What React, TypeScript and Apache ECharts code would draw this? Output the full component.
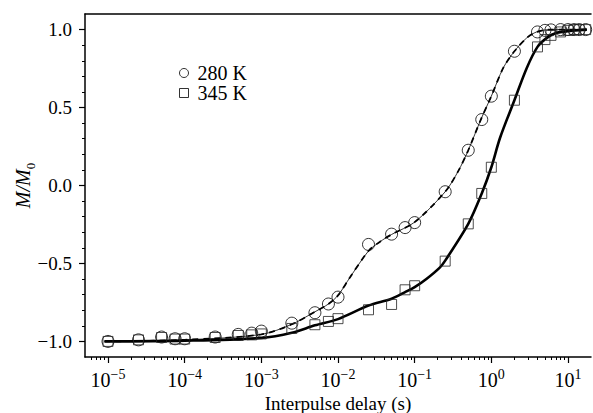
import React, { useEffect, useRef } from "react";
import * as echarts from "echarts";

// Measured data (delay in seconds, M/M0)
const delays280: number[] = [1e-5, 2.5e-5, 5e-5, 7.5e-5, 1e-4, 2.5e-4, 5e-4, 7.5e-4, 1e-3, 2.5e-3, 5e-3, 7.5e-3, 1e-2, 2.5e-2, 5e-2, 7.5e-2, 1e-1, 2.5e-1, 5e-1, 7.5e-1, 1, 2, 4, 5, 6, 8, 10, 12, 14, 17];
const values280: number[] = [-1.0, -0.99, -0.972, -0.983, -0.983, -0.972, -0.955, -0.947, -0.934, -0.883, -0.816, -0.76, -0.716, -0.378, -0.312, -0.27, -0.238, -0.04, 0.226, 0.423, 0.573, 0.861, 0.985, 0.995, 0.998, 1.0, 1.0, 1.0, 1.0, 1.0];

const delays345: number[] = [1e-5, 2.5e-5, 5e-5, 7.5e-5, 1e-4, 2.5e-4, 5e-4, 7.5e-4, 1e-3, 2.5e-3, 5e-3, 7.5e-3, 1e-2, 2.5e-2, 5e-2, 7.5e-2, 1e-1, 2.5e-1, 5e-1, 7.5e-1, 1, 2, 4, 5, 6, 8, 10, 12, 14, 17];
const values345: number[] = [-1.0, -0.99, -0.975, -0.985, -0.985, -0.975, -0.962, -0.958, -0.952, -0.917, -0.893, -0.872, -0.854, -0.797, -0.763, -0.669, -0.643, -0.485, -0.246, -0.051, 0.117, 0.547, 0.889, 0.936, 0.963, 0.985, 0.995, 1.0, 1.0, 1.0];

// Fitted curves
const fit280X: number[] = [9e-6, 1e-4, 1e-3, 2.5e-3, 5e-3, 7.5e-3, 1e-2, 1.43e-2, 2.5e-2, 3.5e-2, 5e-2, 1e-1, 0.25, 0.37, 0.5, 0.73, 1.0, 1.43, 2.0, 2.9, 3.9, 5.8, 17.6];
const fit280Y: number[] = [-1.0, -0.99, -0.955, -0.89, -0.81, -0.76, -0.705, -0.59, -0.42, -0.362, -0.314, -0.235, -0.04, 0.092, 0.226, 0.423, 0.573, 0.754, 0.861, 0.947, 0.985, 1.0, 1.0];

const fit345X: number[] = [9e-6, 1e-4, 1e-3, 2.5e-3, 5e-3, 1e-2, 2.5e-2, 5e-2, 7.5e-2, 0.1, 0.1435, 0.214, 0.25, 0.5, 0.75, 1.0, 1.3, 2.0, 2.9, 4.0, 5.3, 7.1, 11.7, 17.6];
const fit345Y: number[] = [-1.0, -0.995, -0.978, -0.945, -0.897, -0.857, -0.77, -0.726, -0.684, -0.652, -0.598, -0.525, -0.482, -0.246, -0.051, 0.117, 0.306, 0.547, 0.754, 0.889, 0.947, 0.979, 0.994, 1.0];

// Axis ticks
const xDecades: number[] = [-5, -4, -3, -2, -1, 0, 1];
const yMajor: number[] = [-1.0, -0.5, 0.0, 0.5, 1.0];
const yMinor: number[] = [-0.9, -0.8, -0.7, -0.6, -0.4, -0.3, -0.2, -0.1, 0.1, 0.2, 0.3, 0.4, 0.6, 0.7, 0.8, 0.9];
const legendNames: string[] = ["280 K", "345 K"];

const X_MIN = -5.3;
const X_MAX = 1.3;
const FONT = "Liberation Serif";

const toPairs = (xs: number[], ys: number[]) => xs.map((x, i) => [Math.log10(x), ys[i]]);

const xMinor: number[] = [];
for (let n = -6; n <= 1; n++) {
  for (let k = 2; k <= 9; k++) {
    const v = n + Math.log10(k);
    if (v >= X_MIN && v <= X_MAX) xMinor.push(v);
  }
}

export default function App() {
  const ref = useRef<HTMLDivElement>(null);
  useEffect(() => {
    if (!ref.current) return;
    const chart = echarts.init(ref.current, undefined, { renderer: "svg" });
    const axisLineStyle = { color: "#000", width: 1.5 };
    chart.setOption({
      animation: false,
      backgroundColor: "#fff",
      textStyle: { fontFamily: FONT },
      grid: { left: 85, top: 14, right: 2, bottom: 56, containLabel: false, outerBoundsMode: "none" },
      legend: {
        data: legendNames.map((n) => ({
          name: n,
          itemStyle: { color: "rgba(0,0,0,0)", borderColor: "#000", borderWidth: 1 },
        })),
        orient: "vertical",
        left: 174,
        top: 58,
        itemWidth: 9,
        itemHeight: 9,
        itemGap: 0,
        textStyle: { fontFamily: FONT, fontSize: 20, lineHeight: 19, color: "#000", padding: [0, 0, 0, 4] },
      },
      xAxis: [
        {
          type: "value",
          min: X_MIN,
          max: X_MAX,
          position: "bottom",
          name: "Interpulse delay (s)",
          nameLocation: "middle",
          nameGap: 37,
          nameMoveOverlap: false,
          nameTextStyle: { fontFamily: FONT, fontSize: 19, lineHeight: 19, color: "#000" },
          axisLine: { show: true, onZero: false, lineStyle: axisLineStyle },
          axisTick: { show: true, inside: false, length: 6, customValues: xDecades, lineStyle: { color: "#000", width: 1.2 } },
          axisLabel: {
            show: true,
            margin: 10,
            customValues: xDecades,
            formatter: (v: number) => `{b|10}{s|${v < 0 ? "\u2212" : ""}${Math.abs(Math.round(v))}}`,
            rich: {
              b: { fontFamily: FONT, fontSize: 20, color: "#000", lineHeight: 23, verticalAlign: "bottom" },
              s: { fontFamily: FONT, fontSize: 14, color: "#000", lineHeight: 14, verticalAlign: "top" },
            },
          },
          splitLine: { show: false },
        },
        {
          type: "value",
          min: X_MIN,
          max: X_MAX,
          position: "bottom",
          axisLine: { show: false, onZero: false },
          axisTick: { show: true, inside: false, length: 3, customValues: xMinor, lineStyle: { color: "#000", width: 1 } },
          axisLabel: { show: false },
          splitLine: { show: false },
        },
        {
          type: "value",
          min: X_MIN,
          max: X_MAX,
          position: "top",
          axisLine: { show: true, onZero: false, lineStyle: axisLineStyle },
          axisTick: { show: false },
          axisLabel: { show: false },
          splitLine: { show: false },
        },
      ],
      yAxis: [
        {
          type: "value",
          min: -1.1,
          max: 1.1,
          position: "left",
          name: "{i|M/M}{sub|0}",
          nameLocation: "middle",
          nameGap: 48,
          nameMoveOverlap: false,
          nameRotate: 90,
          nameTextStyle: {
            rich: {
              i: { fontFamily: FONT, fontSize: 20, fontStyle: "italic", color: "#000", lineHeight: 24, verticalAlign: "top" },
              sub: { fontFamily: FONT, fontSize: 13, color: "#000", lineHeight: 14, verticalAlign: "bottom" },
            },
          },
          axisLine: { show: true, onZero: false, lineStyle: axisLineStyle },
          axisTick: { show: true, inside: false, length: 6, customValues: yMajor, lineStyle: { color: "#000", width: 1.2 } },
          axisLabel: {
            show: true,
            margin: 13,
            customValues: yMajor,
            fontFamily: FONT,
            fontSize: 19,
            color: "#000",
            formatter: (v: number) => (v < 0 ? "\u2212" : "") + Math.abs(v).toFixed(1),
          },
          splitLine: { show: false },
        },
        {
          type: "value",
          min: -1.1,
          max: 1.1,
          position: "left",
          axisLine: { show: false, onZero: false },
          axisTick: { show: true, inside: false, length: 3, customValues: yMinor, lineStyle: { color: "#000", width: 1 } },
          axisLabel: { show: false },
          splitLine: { show: false },
        },
      ],
      series: [
        {
          type: "line",
          name: "fit280solid",
          data: toPairs(fit280X, fit280Y),
          smooth: 0.3,
          showSymbol: false,
          symbol: "none",
          lineStyle: { color: "#000", width: 0.8 },
          z: 2,
        },
        {
          type: "line",
          name: "fit280dash",
          data: toPairs(fit280X, fit280Y),
          smooth: 0.3,
          showSymbol: false,
          symbol: "none",
          lineStyle: { color: "#000", width: 1.8, type: [6, 5] },
          z: 2,
        },
        {
          type: "line",
          name: "fit345",
          data: toPairs(fit345X, fit345Y),
          smooth: 0.3,
          showSymbol: false,
          symbol: "none",
          lineStyle: { color: "#000", width: 2.6 },
          z: 2,
        },
        {
          type: "scatter",
          name: legendNames[0],
          data: toPairs(delays280, values280),
          symbol: "circle",
          symbolSize: 12,
          itemStyle: { color: "rgba(0,0,0,0)", borderColor: "#000", borderWidth: 1 },
          z: 3,
        },
        {
          type: "scatter",
          name: legendNames[1],
          data: toPairs(delays345, values345),
          symbol: "rect",
          symbolSize: 10,
          itemStyle: { color: "rgba(0,0,0,0)", borderColor: "#222", borderWidth: 1 },
          z: 3,
        },
      ],
    });
    return () => chart.dispose();
  }, []);
  return (
    <div
      ref={ref}
      style={{ position: "absolute", left: 0, top: 0, width: 593, height: 413, background: "#fff" }}
    />
  );
}
